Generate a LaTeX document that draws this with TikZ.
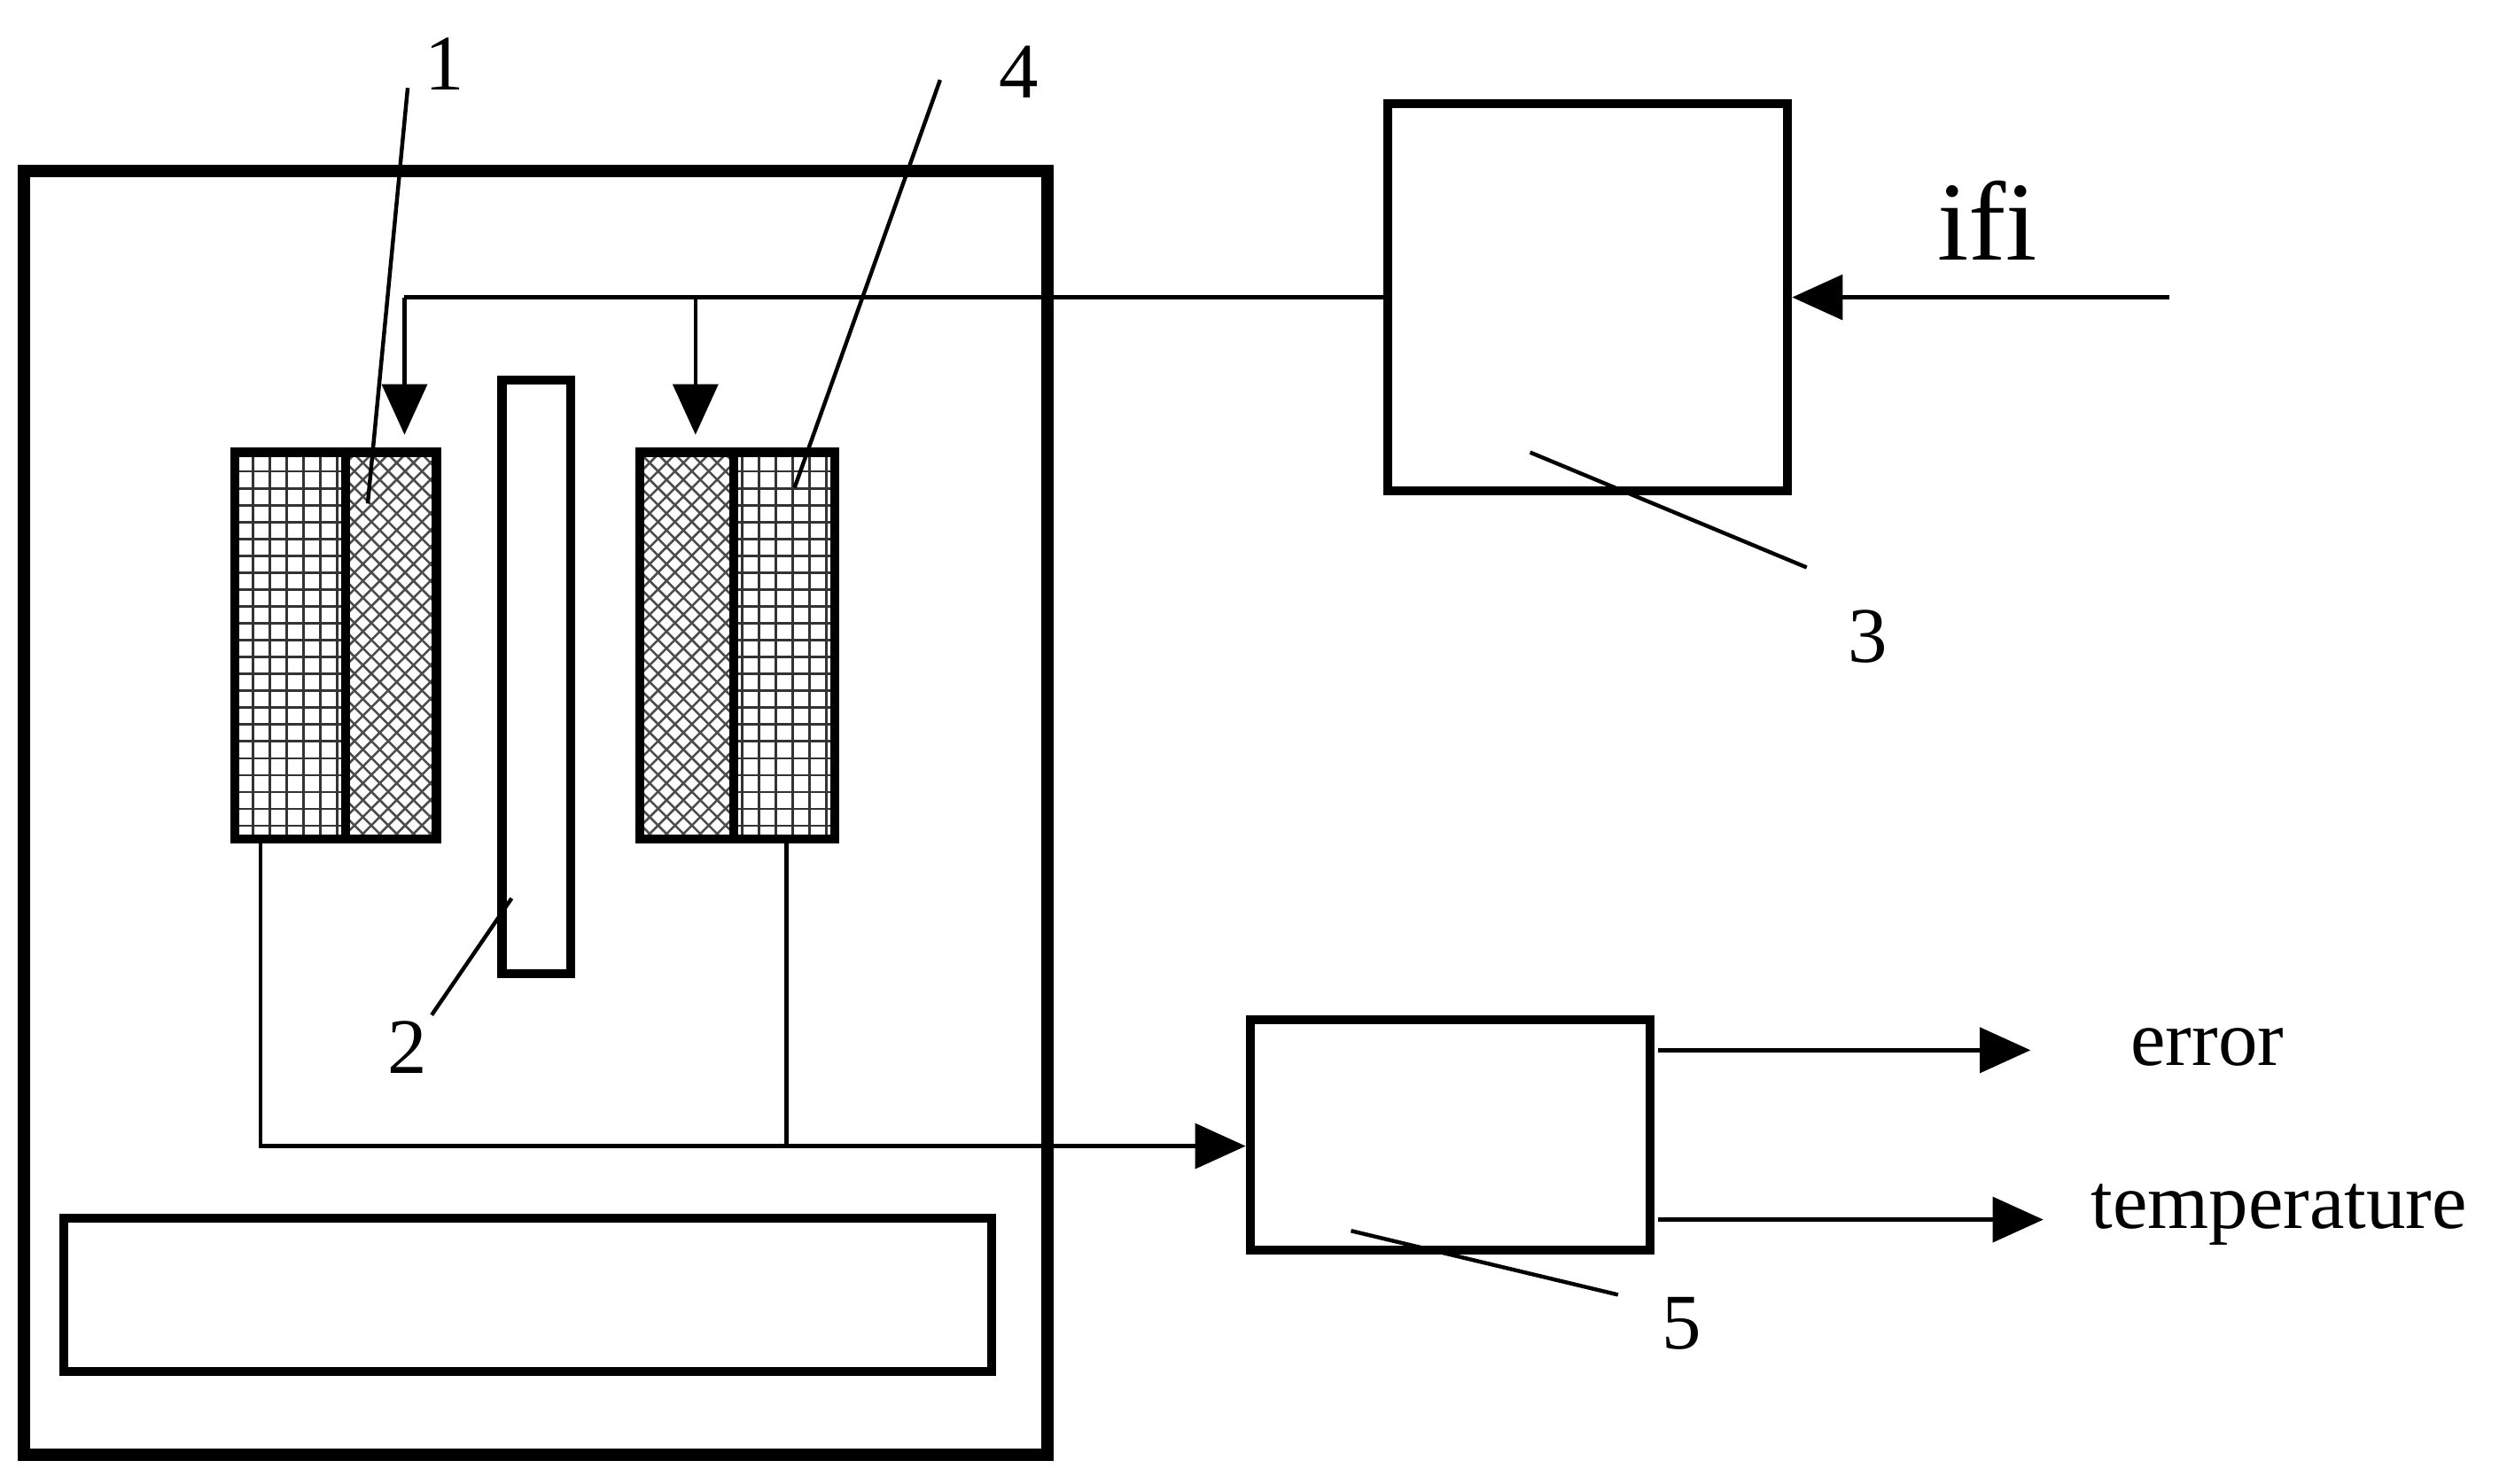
\documentclass[tikz,border=0pt]{standalone}
\usepackage{fontspec}
\setmainfont{Liberation Serif}
\usetikzlibrary{patterns,arrows.meta}
\begin{document}
\begin{tikzpicture}[x=0.01cm,y=-0.01cm,
  thickbox/.style={line width=2.2pt},
  box/.style={line width=1.6pt},
  wire/.style={line width=0.7pt},
  arr/.style={wire,-{Triangle[length=9pt,width=8pt]}},
  lbl/.style={font=\fontsize{14}{16}\selectfont, inner sep=0pt}]
\useasboundingbox (0,0) rectangle (1568,928);
\draw[thickbox] (15,107) rectangle (655,910);
\draw[box] (40,762) rectangle (620,858);
% coil 1
\draw[box,pattern=grid,pattern color=black!80] (147,283) rectangle (216,525);
\draw[box,pattern=crosshatch,pattern color=black!70] (216,283) rectangle (273,525);
% rod 2
\draw[box] (314,238) rectangle (357,609);
% coil 4
\draw[box,pattern=crosshatch,pattern color=black!70] (400,283) rectangle (459,525);
\draw[box,pattern=grid,pattern color=black!80] (459,283) rectangle (522,525);
% boxes
\node[draw,box,minimum width=2.5cm,minimum height=2.42cm,inner sep=0pt] (b3) at (993,186) {};
\node[draw,box,minimum width=2.5cm,minimum height=1.44cm,inner sep=0pt] (b5) at (907,710) {};
\coordinate (in) at (1357,186);
\draw[arr] (in) -- (b3.east);
\node[lbl,font=\fontsize{20}{22}\selectfont] at (1243,138) {ifi};
\coordinate (j1) at (253,186);
\coordinate (j2) at (435,186);
\draw[wire] (b3.west) -- (j1);
\draw[arr] (j1) -- (253,272);
\draw[arr] (j2) -- (435,272);
% wires
\coordinate (w1) at (163,717);
\coordinate (w2) at (492,717);
\draw[wire] (163,525) -- (w1) -- (w2);
\draw[wire] (492,525) -- (w2);
\draw[arr] (w2) -- (b5.west |- w2);
% outputs
\draw[arr] (1037,657) -- (1270,657);
\draw[arr] (1037,763) -- (1278,763);
\node[lbl,anchor=west] at (1332,655) {error};
\node[lbl,anchor=west] at (1307,760) {temperature};
% leaders
\draw[wire] (255,55) -- (230,315);
\node[lbl] at (278,40) {1};
\draw[wire] (588,50) -- (497,305);
\node[lbl] at (637,45) {4};
\draw[wire] (270,635) -- (320,562);
\node[lbl] at (255,655) {2};
\draw[wire] (1130,355) -- (957,283);
\node[lbl] at (1168,398) {3};
\draw[wire] (1012,810) -- (845,770);
\node[lbl] at (1052,828) {5};
\end{tikzpicture}
\end{document}
